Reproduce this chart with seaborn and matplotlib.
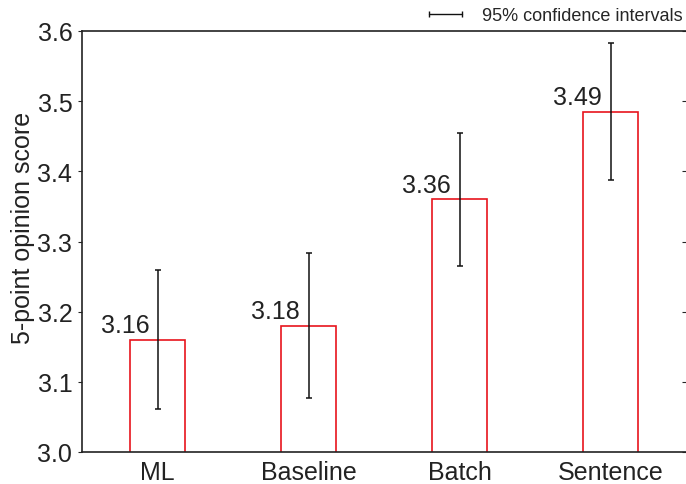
import matplotlib
matplotlib.use('Agg')
import matplotlib.pyplot as plt
from matplotlib.lines import Line2D
import seaborn as sns

methods = ['ML', 'Baseline', 'Batch', 'Sentence']
scores = [3.16, 3.18, 3.36, 3.485]
score_labels = ['3.16', '3.18', '3.36', '3.49']
ci = [0.099, 0.103, 0.095, 0.098]

sns.set_style('ticks')
plt.rcParams['font.family'] = ['Liberation Sans', 'DejaVu Sans']

fig = plt.figure(figsize=(6.86, 4.85), dpi=100)
ax = fig.add_axes([82 / 686, 32 / 485, 604 / 686, 421 / 485])

sns.barplot(x=methods, y=scores, ax=ax, width=0.365, color='white',
            edgecolor='#e8141c', linewidth=1.2, errorbar=None)
ax.errorbar(range(len(methods)), scores, yerr=ci, fmt='none', ecolor='#111111',
            elinewidth=1.1, capsize=2, capthick=1.1)

for i, (v, lab) in enumerate(zip(scores, score_labels)):
    ax.text(i - 0.055, v + 0.004, lab, ha='right', va='bottom', fontsize=18, color='#222222')

ax.set_xlim(-0.5, 3.5)
ax.set_ylim(3.0, 3.6)
ax.set_yticks([3.0, 3.1, 3.2, 3.3, 3.4, 3.5, 3.6])
ax.set_yticklabels(['3.0', '3.1', '3.2', '3.3', '3.4', '3.5', '3.6'])
ax.set_ylabel('5-point opinion score', fontsize=18, color='#222222')
ax.yaxis.set_label_coords(-0.077, 0.535)

ax.spines['right'].set_visible(False)
for s in ['left', 'top', 'bottom']:
    ax.spines[s].set_linewidth(1.2)
    ax.spines[s].set_color('#222222')
ax.tick_params(axis='y', which='both', left=True, right=True, labelsize=18,
               labelcolor='#222222', length=3, pad=4)
ax.yaxis.set_tick_params(which='major', direction='out')
for t in ax.yaxis.get_major_ticks():
    t.tick2line.set_marker(0)  # right ticks pointing inward
    t.tick2line.set_markersize(3)
ax.tick_params(axis='x', length=0, labelsize=18, labelcolor='#222222', pad=6)

handle = Line2D([], [], color='#111111', lw=1, marker='|', markersize=5)
ax.legend([handle], ['95% confidence intervals'], numpoints=2, frameon=False,
          loc='lower right', bbox_to_anchor=(1.0, 1.007), fontsize=13,
          handlelength=2.4, handletextpad=0.8, borderaxespad=0.1, borderpad=0.1)

fig.savefig('out.png', dpi=100)
